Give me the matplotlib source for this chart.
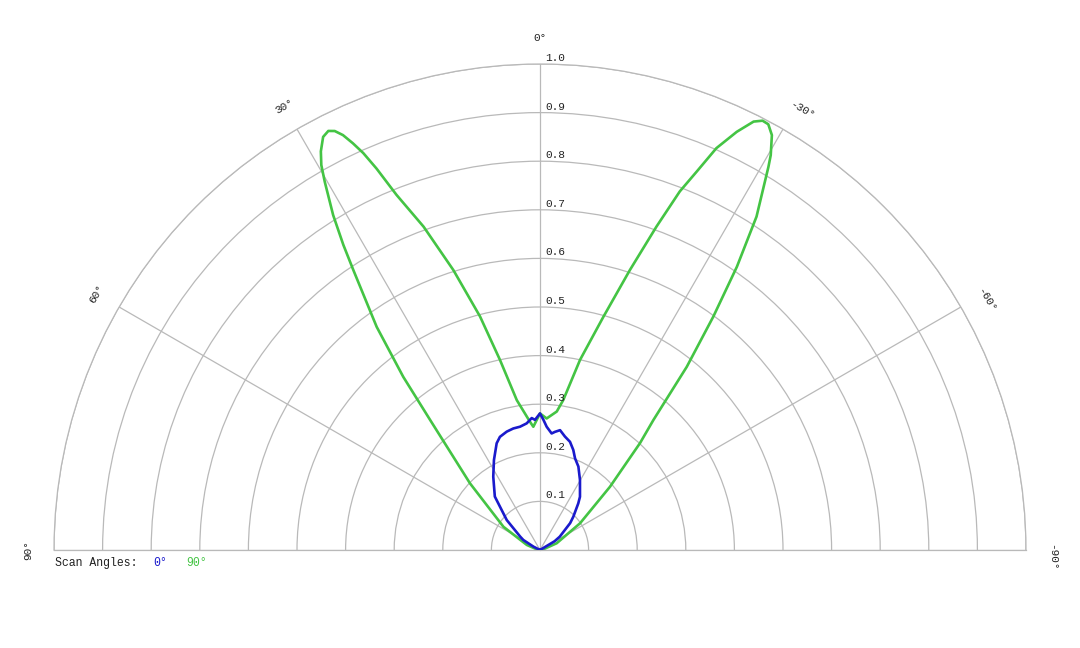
import numpy as np
import matplotlib
matplotlib.use("Agg")
import matplotlib.pyplot as plt

# scan angle 90 deg (green) - angle in degrees, relative intensity
green_theta = [-90, -80, -68, -56.3, -47.9, -43.1, -41.1, -38.7, -36.6, -34.8,
               -33.0, -30.8, -30.3, -29.2, -28.2, -27.4, -26.5, -25.2,
               -23.7, -22.5, -21.3, -19.8, -17.8, -15.2, -11.9, -8.8, -6.9,
               -2.9, 0, 3.1, 4.5, 8.8, 11.9, 14.4, 17.2, 19.8, 22.0, 23.2,
               24.0, 24.7, 25.4, 26.1, 26.8, 27.7, 28.8, 29.6, 30.3, 31.7,
               32.8, 33.7, 36.2, 38.3, 40.2, 46.4, 57.6, 69, 80, 90]
green_r = [0.0, 0.006, 0.037, 0.099, 0.194, 0.301, 0.355, 0.483, 0.598, 0.71,
           0.818, 0.918, 0.941, 0.978, 0.994, 0.995, 0.985, 0.951,
           0.903, 0.843, 0.792, 0.707, 0.605, 0.497, 0.40, 0.312, 0.287,
           0.271, 0.281, 0.254, 0.265, 0.312, 0.40, 0.496, 0.603, 0.707, 0.788, 0.854,
           0.894, 0.921, 0.945, 0.960, 0.966, 0.960, 0.936, 0.911, 0.878, 0.810,
           0.747, 0.692, 0.569, 0.454, 0.35, 0.199, 0.089, 0.029, 0.006, 0.0]

# scan angle 0 deg (blue)
blue_theta = [-62, -59, -56, -48.3, -45, -39.4, -36.9, -29.7, -24.7, -20.9,
              -18.4, -15.5, -12.4, -9.5, -7.2, -5.7, -3.1, -1.5, 0, 2.2, 3.6,
              6.0, 9.2, 12.4, 15.7, 19.5, 22.1, 27.1, 32.5, 40.2, 48, 56, 59,
              63, 66]
blue_r = [0.0, 0.035, 0.049, 0.083, 0.097, 0.124, 0.137, 0.166, 0.189, 0.202,
          0.217, 0.231, 0.239, 0.250, 0.245, 0.241, 0.254, 0.268, 0.281, 0.268,
          0.272, 0.262, 0.257, 0.256, 0.253, 0.247, 0.237, 0.208, 0.179, 0.144,
          0.092, 0.049, 0.04, 0.015, 0.0]

r_ticks = [0.1, 0.2, 0.3, 0.4, 0.5, 0.6, 0.7, 0.8, 0.9, 1.0]
theta_ticks = [-90, -60, -30, 0, 30, 60, 90]

mono = "Liberation Mono"
grid_col = "#b9b9b9"
blue = "#1a1acc"
green = "#44c444"

W, H = 1080, 648
fig = plt.figure(figsize=(W / 100, H / 100), dpi=100)
# square box of side 972 px; the half disc sits in its middle, baseline at y=550 px
side = 972
top = 550 - 0.75 * side
ax = fig.add_axes([54 / W, 1 - (top + side) / H, side / W, side / H], projection="polar")
ax.set_theta_zero_location("N")
ax.set_theta_direction(1)
ax.set_thetamin(-90)
ax.set_thetamax(90)
ax.set_ylim(0, 1)

ax.set_rgrids(r_ticks, labels=[""] * len(r_ticks))
ax.set_thetagrids(theta_ticks, labels=[""] * len(theta_ticks))
ax.grid(True, color=grid_col, linewidth=0.9)
for sp in ax.spines.values():
    sp.set_color(grid_col)
    sp.set_linewidth(0.9)
ax.tick_params(length=0)

ax.plot(np.radians(green_theta), green_r, color=green, linewidth=1.9, zorder=3,
        solid_joinstyle="round")
ax.plot(np.radians(blue_theta), blue_r, color=blue, linewidth=1.9, zorder=4,
        solid_joinstyle="round")

# radial labels just right of the 0 deg axis
for r in r_ticks:
    ax.annotate(f"{r:.1f}", xy=(0, r), xytext=(5, 3), textcoords="offset pixels",
                ha="left", va="baseline", fontsize=8, family=mono, color="#222222")

# angle labels around the outside
for t in theta_ticks:
    shift = -0.8 if t < 0 else 0
    ax.text(np.radians(t + shift), 1.053, f"{t}°", rotation=t, ha="center",
            va="center", fontsize=8, family=mono, color="#222222",
            rotation_mode="anchor")

fig.text(55 / W, 1 - 563 / H, "Scan Angles:", ha="left", va="center",
         fontsize=8.3, family=mono, color="#222222")
fig.text(153 / W, 1 - 563 / H, "0°", ha="left", va="center",
         fontsize=8.3, family=mono, color=blue)
fig.text(186 / W, 1 - 563 / H, "90°", ha="left", va="center",
         fontsize=8.3, family=mono, color=green)

fig.savefig("out.png", dpi=100)
